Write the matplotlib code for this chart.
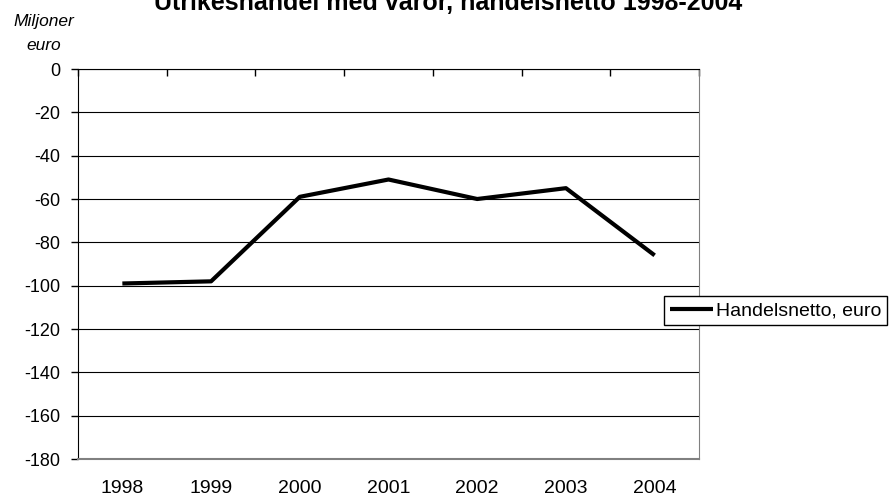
import matplotlib.pyplot as plt
from matplotlib.transforms import blended_transform_factory

plt.rcParams['font.family'] = ['Liberation Sans', 'DejaVu Sans']

years = ['1998', '1999', '2000', '2001', '2002', '2003', '2004']
netto = [-99, -98, -59, -51, -60, -55, -86]
yticks = [0, -20, -40, -60, -80, -100, -120, -140, -160, -180]

W, H = 889, 498
fig = plt.figure(figsize=(W / 100, H / 100), dpi=100)
ax = fig.add_axes([78 / W, 1 - 459 / H, (699 - 78) / W, (459 - 69) / H])

x = list(range(len(years)))
line, = ax.plot(x, netto, color='black', lw=3, label='Handelsnetto, euro', solid_capstyle='butt')

ax.set_xlim(-0.5, len(years) - 0.5)
ax.set_ylim(-180, 0)
ax.set_yticks(yticks)
ax.set_yticklabels([str(v) for v in yticks], fontsize=13)
for v in yticks:
    ax.axhline(v, color='black', lw=0.8, zorder=0)

# category axis sits at zero (top), labels are drawn below the plot
ax.set_xticks([i - 0.5 for i in range(len(years) + 1)])
ax.set_xticklabels([])
ax.xaxis.set_ticks_position('top')
ax.tick_params(axis='x', direction='in', length=5, width=1, color='black')
ax.tick_params(axis='y', direction='out', length=5, width=1, pad=8)
trans = blended_transform_factory(ax.transData, fig.transFigure)
for i, yr in enumerate(years):
    ax.text(i, 1 - 488 / H, yr, transform=trans, ha='center', va='center', fontsize=14)

ax.spines['left'].set_color('black')
ax.spines['top'].set_color('black')
ax.spines['right'].set_color('#808080')
ax.spines['bottom'].set_color('#808080')
ax.spines['bottom'].set_linewidth(1.5)

fig.text(448 / W, 1 - 10 / H, 'Utrikeshandel med varor, handelsnetto 1998-2004', ha='center', va='baseline',
         fontsize=18, fontweight='bold')
fig.text(44 / W, 1 - 26 / H, 'Miljoner', ha='center', va='baseline', fontsize=12.5, style='italic')
fig.text(44 / W, 1 - 50 / H, 'euro', ha='center', va='baseline', fontsize=12.5, style='italic')

leg = fig.legend(handles=[line], loc='upper left', bbox_to_anchor=(664 / W, 1 - 296 / H),
                 frameon=True, fancybox=False, edgecolor='black', fontsize=14,
                 handlelength=2.2, handletextpad=0.15, borderpad=0.3, borderaxespad=0)
leg.get_frame().set_linewidth(1)
leg.get_frame().set_alpha(1)

fig.savefig('out.png', dpi=100)
